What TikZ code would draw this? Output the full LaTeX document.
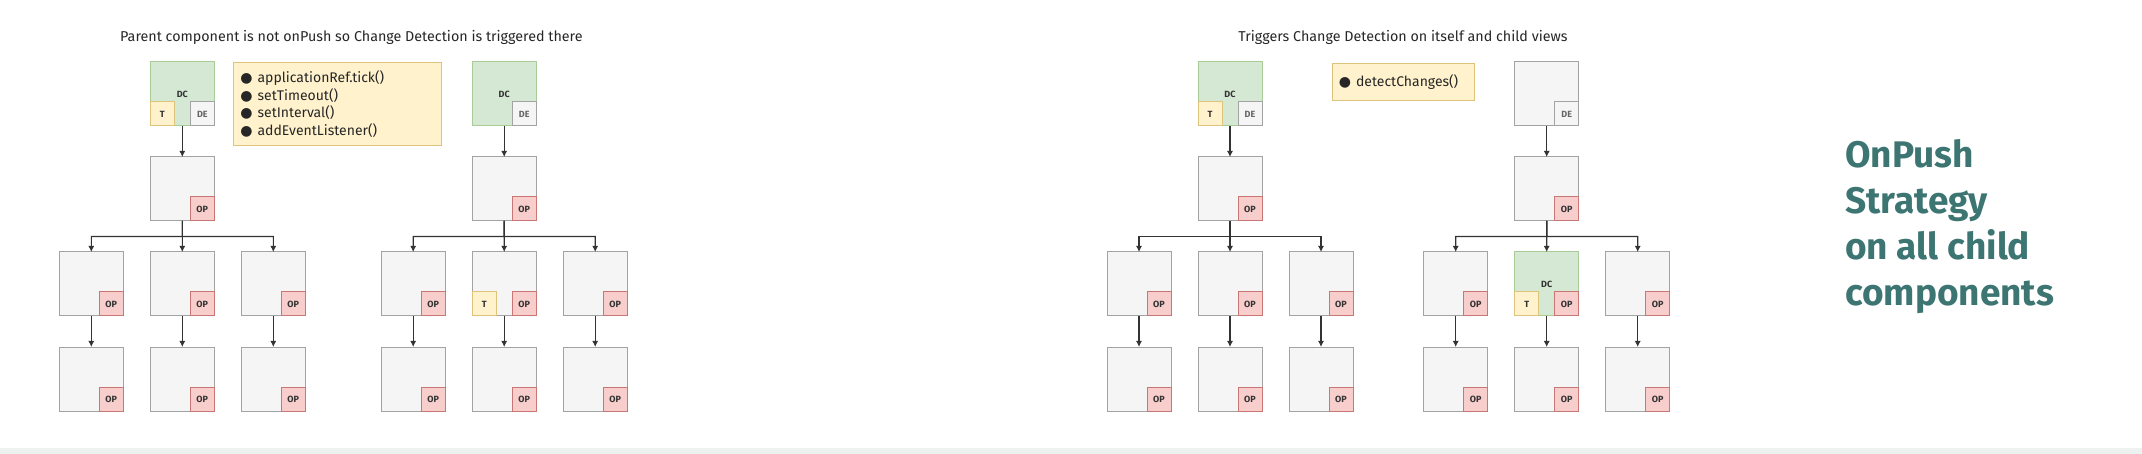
\documentclass[tikz,border=0pt]{standalone}
\usepackage{fontspec}
\setmainfont{Fira Sans}
\newfontfamily\symfont{DejaVu Sans}
\usepackage{xcolor}
\usetikzlibrary{positioning, arrows.meta, calc}

\definecolor{boxfill}{HTML}{F5F5F5}
\definecolor{boxline}{HTML}{A3A3A3}
\definecolor{dcfill}{HTML}{D5E8D4}
\definecolor{dcline}{HTML}{A8CB97}
\definecolor{tfill}{HTML}{FFF2CC}
\definecolor{tline}{HTML}{DDC47A}
\definecolor{opfill}{HTML}{F8CECC}
\definecolor{opline}{HTML}{C97774}
\definecolor{headteal}{HTML}{3D7572}
\definecolor{bandfill}{HTML}{EDF1EF}

\begin{document}
\begin{tikzpicture}[ x = 1pt, y = -1pt
                     , node distance = 31pt and 27pt
                     , >={Latex[width=6pt, length=6pt]}
                     , comp/.style = { rectangle
                                     , draw = boxline
                                     , fill = boxfill
                                     , line width = 1pt
                                     , minimum size = 64pt
                                     , inner sep = 0pt
                                     , outer sep = 0pt
                                     , text = black!80
                                     , font = \fontsize{9}{9}\selectfont\bfseries }
                     , dccomp/.style = {comp, draw = dcline, fill = dcfill}
                     , tag/.style = {comp, minimum size = 24pt}
                     , optag/.style = {tag, draw = opline, fill = opfill}
                     , ttag/.style = {tag, draw = tline, fill = tfill}
                     , detag/.style = {tag, text = black!60}
                     , note/.style = { rectangle
                                     , draw = tline
                                     , fill = tfill
                                     , line width = 1pt
                                     , inner xsep = 6.6pt
                                     , inner ysep = 0pt
                                     , align = left
                                     , text = black!85
                                     , font = \fontsize{14}{17.4}\selectfont }
                     , caption/.style = {font = \fontsize{14.3}{16}\selectfont, text = black!85}
                     , link/.style = {->, draw = black!80, line width = 1.1pt}
                     ]

  \useasboundingbox (0,0) rectangle (2142,454);
  \fill[bandfill] (0,448) rectangle (2142,454);

  \node (leftcap) [caption, anchor = base] at (351.4,41.7)
  {Parent component is not onPush so Change Detection is triggered there};
  \node (rightcap) [caption, anchor = base] at (1403,41.7)
  {Triggers Change Detection on itself and child views};

  % four component trees
  \foreach \t/\cx/\rootstyle/\rootlabel/\midstyle/\midlabel in
    {a/182.3/dccomp/DC/comp/{}, b/504.2/dccomp/DC/comp/{},
     c/1230/dccomp/DC/comp/{}, d/1546.7/comp/{}/dccomp/DC}
  {
    \node (\t-root) [\rootstyle] at (\cx,94) {\rootlabel};
    \node (\t-mid) [comp, below = of \t-root] {};
    \node (\t-l2) [\midstyle, below = of \t-mid] {\midlabel};
    \node (\t-l1) [comp, left = of \t-l2] {};
    \node (\t-l3) [comp, right = of \t-l2] {};
    \foreach \i in {1,2,3}
      \node (\t-b\i) [comp, below = of \t-l\i] {};

    \node (\t-de) [detag, anchor = south east] at (\t-root.south east) {DE};
    \foreach \n in {mid, l1, l2, l3, b1, b2, b3}
      \node (\t-\n-op) [optag, anchor = south east] at (\t-\n.south east) {OP};

    \draw[link] (\t-root) -- (\t-mid);
    \foreach \i in {1,2,3} {
      \draw[link] (\t-mid.south) -- ($(\t-mid.south)!0.5!(\t-l2.north)$) -| (\t-l\i.north);
      \draw[link] (\t-l\i) -- (\t-b\i);
    }
  }

  \foreach \n in {a-root, c-root, b-l2, d-l2}
    \node (\n-t) [ttag, anchor = south west] at (\n.south west) {T};

  \node (ticks) [note, anchor = north west, minimum width = 207.7pt,
                 minimum height = 82.7pt, text width = 194.5pt] at (233.3,62.3)
  {{\symfont ●}\hspace{5pt}applicationRef.tick()\\
   {\symfont ●}\hspace{5pt}setTimeout()\\
   {\symfont ●}\hspace{5pt}setInterval()\\
   {\symfont ●}\hspace{5pt}addEventListener()};

  \node (detect) [note, anchor = north west, minimum width = 142.6pt,
                  minimum height = 37.3pt, text width = 129.4pt] at (1331.7,62.7)
  {{\symfont ●}\hspace{5pt}detectChanges()};

  \node (strategy) [anchor = north west, inner sep = 0pt, align = left,
                    text = headteal, font = \fontsize{37}{46}\selectfont\bfseries]
  at (1845,139) {OnPush\\Strategy\\on all child\\components};

\end{tikzpicture}
\end{document}
